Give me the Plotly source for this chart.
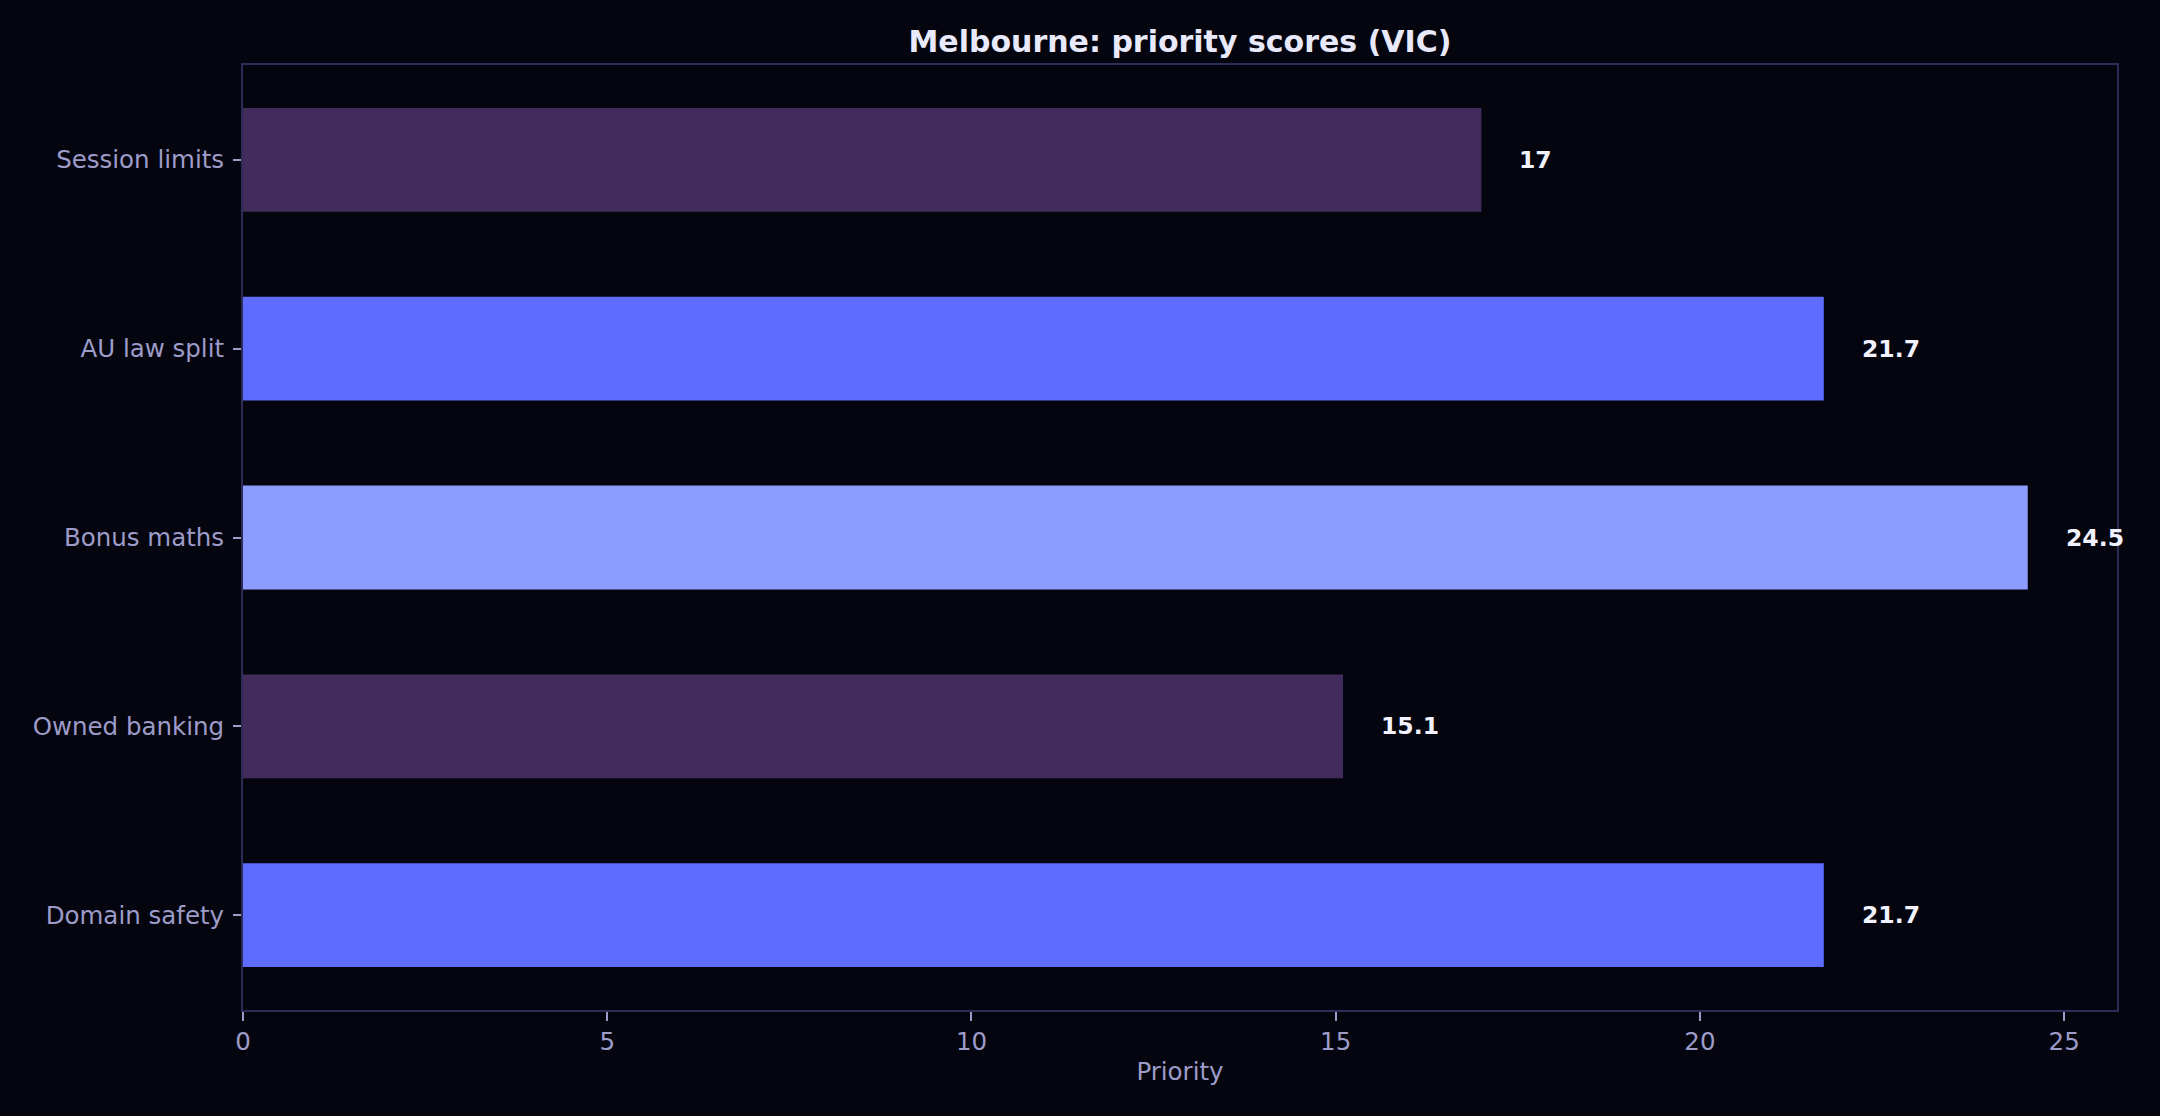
import plotly.graph_objects as go

# data, top row first
topics = ["Session limits", "AU law split", "Bonus maths", "Owned banking", "Domain safety"]
scores = [17, 21.7, 24.5, 15.1, 21.7]
score_labels = ["17", "21.7", "24.5", "15.1", "21.7"]

bar_colours = ["#412c5c", "#5e6cff", "#8d9cff", "#412c5c", "#5e6cff"]

bg = "#04050f"
frame = "#2c2c58"
muted = "#9d9cc9"
font = "DejaVu Sans"

fig = go.Figure()
fig.add_trace(go.Bar(
    x=scores, y=topics, orientation="h",
    width=0.55,
    marker=dict(color=bar_colours, line=dict(width=0)),
    hoverinfo="x+y",
))

# value labels sit a fixed gap to the right of each bar end
for t, v, lab in zip(topics, scores, score_labels):
    fig.add_annotation(x=v, y=t, text="<b>" + lab + "</b>", showarrow=False,
                       xanchor="left", yanchor="middle", xshift=36,
                       font=dict(family=font, size=23.5, color="#f2f2ff"))

fig.update_layout(
    width=2160, height=1116,
    paper_bgcolor=bg, plot_bgcolor=bg,
    margin=dict(l=243, r=43, t=65, b=106),
    showlegend=False,
    font=dict(family=font, size=24.5, color=muted),
    title=dict(text="<b>Melbourne: priority scores (VIC)</b>",
               x=0.5, xref="paper", xanchor="center",
               y=1 - 41 / 1116, yref="container", yanchor="middle",
               font=dict(family=font, size=30, color="#e8e9fb")),
)
fig.update_xaxes(
    range=[0, 24.5 * 1.05], tickvals=[0, 5, 10, 15, 20, 25],
    showgrid=False, zeroline=False,
    showline=True, linecolor=frame, linewidth=2, mirror=True,
    ticks="outside", ticklen=9, tickwidth=1.5, tickcolor=muted,
    tickfont=dict(family=font, size=24.5, color=muted),
    title=dict(text="Priority", standoff=7,
               font=dict(family=font, size=24.5, color=muted)),
)
fig.update_yaxes(
    type="category", categoryorder="array", categoryarray=topics,
    range=[4.5025, -0.5025],
    showgrid=False, zeroline=False,
    showline=True, linecolor=frame, linewidth=2, mirror=True,
    ticks="outside", ticklen=8, tickwidth=1.5, tickcolor=muted,
    ticklabelstandoff=4,
    tickfont=dict(family=font, size=24.5, color=muted),
)

# drop the default page margin so the figure fills the window
fig.write_html("out.html", config={"displayModeBar": False},
               post_script="document.body.style.margin='0';document.body.style.background='%s';" % bg)
